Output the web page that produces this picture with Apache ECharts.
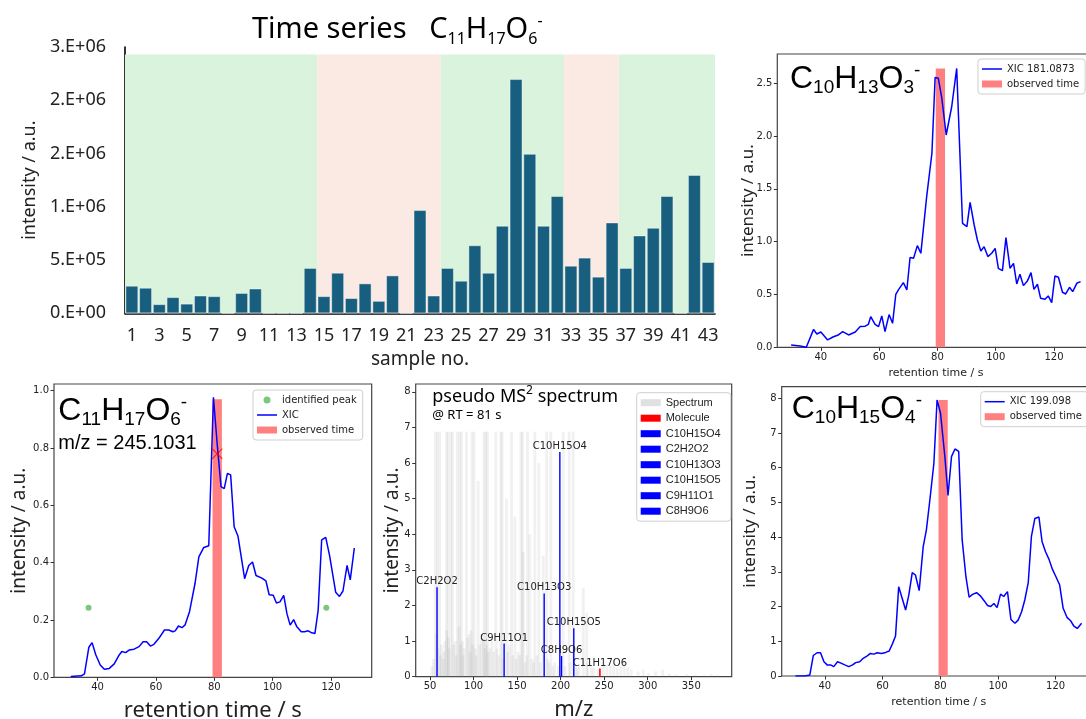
<!DOCTYPE html>
<html><head><meta charset="utf-8">
<script src="https://cdn.jsdelivr.net/npm/echarts@6/dist/echarts.min.js"></script>
<style>html,body{margin:0;padding:0;background:#fff}#c{width:1086px;height:719px}</style>
</head><body><div id="c"></div>
<script>
// ---------------- DATA ----------------
const sampleNo = ['1','2','3','4','5','6','7','8','9','10','11','12','13','14','15','16','17','18','19','20','21','22','23','24','25','26','27','28','29','30','31','32','33','34','35','36','37','38','39','40','41','42','43'];
const tsIntensity = [258000,239000,85000,151000,90000,166000,160000,0,190000,232000,0,0,0,425000,160000,380000,142000,280000,116000,355000,0,968000,166000,425000,305000,638000,380000,821000,2198000,1496000,821000,1100000,446000,522000,343000,852000,425000,730000,802000,1100000,0,1298000,481000];
const tsTicks = [0,500000,1000000,1500000,2000000,2500000];
const phaseStart = [0.5,14.5,23.5,32.5,36.5];
const phaseEnd = [14.5,23.5,32.5,36.5,43.5];
const phaseKind = [0,1,0,1,0];
const phaseTop = 2430000;

const rt181 = [29.8,32.9,35,37.5,38.6,40,42.3,44.3,46,47.5,49.5,51.8,53.5,55.2,56.3,57.1,58.6,59.8,60.9,62,63.4,64.6,65.7,66.6,68.3,69.5,70.6,71.8,73.1,74.3,76.3,78.1,79.2,80.3,81.5,83,84.9,86.6,88.6,90.1,91.2,92.6,93.7,94.9,96,97.3,98.6,99.8,100.9,102.3,103.5,104.9,106.1,107.2,108.3,109.5,110.9,112.1,113.1,114.3,115.4,116.9,118,119.2,120.3,121.5,122.9,124,125.3,126.4,127.8,129.1];
const xic181 = [0.022,0.013,0,0.17,0.126,0.145,0.07,0.1,0.117,0.148,0.117,0.145,0.196,0.2,0.218,0.29,0.218,0.196,0.297,0.148,0.31,0.227,0.5,0.543,0.612,0.543,0.85,0.843,0.963,0.89,1.427,1.837,2.554,2.547,2.358,2.01,2.28,2.64,1.174,1.143,1.373,1.158,1.016,0.912,0.953,0.859,0.89,0.937,0.748,0.726,1.039,0.748,0.795,0.6,0.691,0.584,0.631,0.707,0.549,0.597,0.464,0.455,0.486,0.423,0.675,0.663,0.521,0.505,0.568,0.527,0.606,0.622];

const rt245 = [30.8,34.4,35.5,37,38.1,39.4,40.9,42.3,44,45.7,47.4,48.3,49.6,50.8,52.5,54.2,55.6,56.8,58.1,59.3,61,62.9,64.4,65.8,66.6,67.7,68.9,70,71.5,73.4,74.7,76.4,78.1,79.7,81.1,82.3,83.4,84.5,85.6,86.8,88.1,90.4,91.8,93.1,94.3,96.3,97.7,98.8,100.2,101.3,102.5,103.8,104.9,106,107.2,108.3,109.8,110.9,112.2,113.4,114.5,115.6,116.8,118.2,119.5,121.6,122.9,124.1,125.5,126.6,128];
const xic245 = [0.003,0.005,0.012,0.105,0.121,0.078,0.043,0.028,0.031,0.047,0.078,0.09,0.086,0.095,0.098,0.107,0.124,0.124,0.109,0.115,0.136,0.165,0.165,0.159,0.162,0.179,0.173,0.183,0.229,0.328,0.42,0.453,0.459,0.977,0.8,0.665,0.658,0.711,0.706,0.525,0.493,0.344,0.39,0.402,0.355,0.346,0.336,0.288,0.286,0.259,0.263,0.286,0.222,0.182,0.201,0.176,0.159,0.159,0.162,0.155,0.153,0.234,0.479,0.488,0.425,0.297,0.282,0.301,0.39,0.34,0.451];
const peakRt = [36.9,118.4];
const peakInt = [0.243,0.243];
const markRt = [81];
const markInt = [0.78];

const rt199 = [29.8,33.1,34.8,36,37.3,38.5,39.7,40.8,42,43.1,44.4,45.8,46.9,48.3,49.6,50.7,52.1,53.3,54.7,55.8,57,58.1,59.6,61.1,62.3,63.5,64.5,65.6,66.8,68,69.1,70.3,71.4,72.7,74.1,75.2,76.4,77.8,78.9,80.1,81.6,82.7,83.9,85.1,86.4,87.6,88.9,90,91.2,92.6,93.9,95.2,96.4,97.5,98.6,99.7,100.9,102,103.3,104.5,105.9,107,108.2,109.3,110.5,111.6,112.8,114.2,115.3,116.5,117.7,118.9,120.1,121.4,122.6,124,125.1,126.3,127.5,129];
const xic199 = [0,0,0.03,0.59,0.67,0.67,0.41,0.32,0.32,0.27,0.41,0.365,0.32,0.27,0.32,0.385,0.41,0.51,0.58,0.65,0.63,0.67,0.65,0.68,0.72,0.94,1.15,2.57,2.24,1.9,2.33,2.98,2.91,2.46,3.73,4.21,5.07,6.13,7.95,7.57,6.32,5.2,6.32,6.54,6.47,3.92,2.86,2.27,2.35,2.4,2.31,2.17,2.03,2.0,2.09,1.97,2.36,2.29,2.43,1.63,1.52,1.61,1.85,2.19,2.69,4.02,4.54,4.58,3.87,3.58,3.36,3.07,2.86,2.62,1.95,1.68,1.6,1.44,1.37,1.52];

const obsWindow = [79.4, 82.6];
const obsTop181 = 2.64, obsTop245 = 0.97, obsTop199 = 7.95;
const rtTicks = [40,60,80,100,120];
const rtRange = [25.05,133.95];

const specMz = [52,54,56.1,57,58.4,59,61.1,62,63,65,66,67,68.8,69,70.7,71,72,73.8,75.7,77,79,80,81.4,83,84.1,85,86,87,88,89,91.8,93,95,96,97,98.3,99,100.6,102,103,105.2,107,109,111,112,113,114,115,116,117,119,121,123,125.5,127,129,131.3,132.8,134,137.8,139,141,143.6,145,147.4,149,151,153,154.3,156.2,157,159,161,162,164.6,167,169,170.4,173,175,177,180,183.8,185,187,188.7,191,193,197,202.9,205,209.8,211,214.4,217,219,221,226,229.8,231,235,238,243,249,253,257,261,265,269,273,277,281,289,295,301,309,317,325,333,345,355,365,373,380];
const specInt = [0.3,0.5,6.88,1.2,6.88,0.8,6.88,0.6,0.9,0.5,0.7,1.0,6.88,1.3,6.88,1.1,0.8,6.88,6.88,0.9,1.0,0.6,6.88,1.4,6.88,0.9,6.88,1.0,0.6,0.8,6.88,1.1,1.2,0.7,1.3,6.88,0.9,6.88,0.8,0.6,5.5,0.9,1.2,1.0,6.88,0.8,6.88,0.9,6.88,0.7,0.8,1.0,0.7,6.88,0.8,0.6,6.88,6.88,0.5,5.0,0.7,0.9,6.88,0.6,4.5,0.5,0.7,0.6,6.88,6.88,3.5,0.4,0.6,6.88,4.0,0.5,0.4,6.88,0.6,6.0,0.4,3.4,6.88,0.5,0.4,6.88,0.3,0.4,0.3,6.88,0.3,6.88,0.4,6.88,0.3,0.25,0.3,2.5,1.8,0.4,0.3,0.25,0.2,0.3,0.35,0.3,0.35,0.25,0.3,0.4,0.25,0.2,0.15,0.2,0.1,0.15,0.2,0.08,0.06,0.07,0.05,0.04,0.08,0.04];
const fragNames = ['C10H15O4','C2H2O2','C10H13O3','C10H15O5','C9H11O1','C8H9O6'];
const fragMz = [199.09,58.0,181.09,215.09,135.08,201.04];
const fragInt = [6.31,2.51,2.34,1.36,0.935,0.58];
const molLabel = 'C11H17O6';
const molMz = [245.10];
const molInt = [0.23];
const mzTicks = [50,100,150,200,250,300,350];
const mzRange = [33.5,396.5];

// ---------------- HELPERS ----------------
const MPL = 'DejaVu Sans';
const NOTO = 'Noto Sans';
const ARIAL = 'Liberation Sans';
const TXT = '#222';
const LINE_ICON = 'path://M0,0M20,7M0,2.75H20V4.25H0Z';

function sciLabel(v){
  if (v === 0) return '0.E+00';
  let e = Math.floor(Math.log10(v));
  let m = Math.round(v / Math.pow(10, e));
  if (m === 10) { m = 1; e += 1; }
  return m + '.E+' + (e < 10 ? '0' + e : e);
}
function zip(a, b){ return a.map((x, i) => [x, b[i]]); }

function valAxis(gridIndex, range, ticks, fmt, name, nameSize, nameGap, nameFont, isY){
  return {
    type:'value', gridIndex, min:range[0], max:range[1],
    name, nameLocation:'middle', nameGap, nameRotate: isY ? 90 : 0, nameMoveOverlap:false,
    nameTextStyle:{fontSize:nameSize, fontFamily:nameFont, color:TXT},
    axisLine:{show:false}, splitLine:{show:false},
    axisTick:{show:true, length:3.5, inside:false, lineStyle:{color:'#333', width:1}, customValues:ticks},
    axisLabel:{fontSize:10, color:TXT, fontFamily:MPL, margin:5, customValues:ticks, formatter:fmt}
  };
}
const f1 = v => v.toFixed(1);
const f0 = v => String(Math.round(v));

function obsRender(params, api){
  const p0 = api.coord([api.value(0), api.value(2)]);
  const p1 = api.coord([api.value(1), 0]);
  return {type:'rect', shape:{x:p0[0], y:p0[1], width:p1[0]-p0[0], height:p1[1]-p0[1]}, style:{fill:api.visual('color')}};
}
function obsSeries(xi, yi, top){
  return {type:'custom', name:'observed time', xAxisIndex:xi, yAxisIndex:yi, z:2, silent:true,
    itemStyle:{color:'#ff8080'}, data:[[obsWindow[0], obsWindow[1], top]], encode:{x:[0,1], y:2}, renderItem:obsRender};
}
function xicSeries(name, xi, yi, rt, v){
  return {type:'line', name, xAxisIndex:xi, yAxisIndex:yi, z:3, symbol:'none', showSymbol:false, silent:true,
    lineStyle:{color:'#0000ff', width:1.5}, itemStyle:{color:'#0000ff'}, data:zip(rt, v)};
}
function stickSeries(name, mz, ints, color, width, label, z){
  return {type:'custom', name, xAxisIndex:4, yAxisIndex:3, z, silent:true, itemStyle:{color},
    data:zip(mz, ints),
    renderItem:(params, api) => {
      const x = api.value(0), y = api.value(1);
      const b = api.coord([x, 0]), t = api.coord([x, y]);
      const els = [{type:'rect', shape:{x:b[0]-width/2, y:t[1], width, height:b[1]-t[1]}, style:{fill:color}}];
      if (label) els.push({type:'text', style:{x:b[0], y:t[1]-0.5, text:label, align:'center', textAlign:'center',
        verticalAlign:'bottom', textVerticalAlign:'bottom', fontSize:10, fontFamily:MPL, fill:TXT}});
      return {type:'group', children:els};
    }};
}
const legendBase = {orient:'vertical', selectedMode:false, itemWidth:20, itemHeight:7, itemGap:3,
  padding:[4,6,4,4], borderColor:'#cfcfcf', borderWidth:1, borderRadius:3, backgroundColor:'rgba(255,255,255,0.85)',
  symbolKeepAspect:true,
  textStyle:{fontSize:10, color:TXT, fontFamily:MPL, lineHeight:12}, z:20};

function formulaRich(big, sub, fam){
  return {
    b:{fontSize:big, fontFamily:fam, height:big, padding:[8,0,0,0], verticalAlign:'top', color:'#000'},
    s:{fontSize:sub, fontFamily:fam, height:sub, padding:[22.6,0,0,0], verticalAlign:'top', color:'#000'},
    p:{fontSize:sub, fontFamily:fam, height:sub, padding:[5.8,0,0,0], verticalAlign:'top', color:'#000'}
  };
}
function formulaText(x, y, parts){
  return {type:'text', x, y, z:30, silent:true, style:{text:parts, rich:formulaRich(32, 19, ARIAL), align:'left', verticalAlign:'top', textAlign:'left', textVerticalAlign:'top'}};
}

// ---------------- OPTION ----------------
const option = {
  animation:false,
  backgroundColor:'#fff',
  textStyle:{fontFamily:MPL},
  grid:[
    {left:125, top:47, width:590, height:266.3, outerBoundsMode:'none', containLabel:false},
    {left:777.3, top:54, width:317.4, height:293.3, show:true, borderColor:'#444', borderWidth:1.2, outerBoundsMode:'none', containLabel:false},
    {left:54, top:384, width:317.7, height:293.3, show:true, borderColor:'#444', borderWidth:1.2, outerBoundsMode:'none', containLabel:false},
    {left:415.7, top:384, width:316, height:292.7, show:true, borderColor:'#444', borderWidth:1.2, outerBoundsMode:'none', containLabel:false},
    {left:781.7, top:386.7, width:314.2, height:289.3, show:true, borderColor:'#444', borderWidth:1.2, outerBoundsMode:'none', containLabel:false}
  ],
  xAxis:[
    {type:'category', gridIndex:0, data:sampleNo, boundaryGap:true,
     name:'sample no.', nameLocation:'middle', nameGap:37, nameMoveOverlap:false,
     nameTextStyle:{fontSize:19, fontFamily:NOTO, color:TXT},
     axisLine:{show:true, lineStyle:{color:'#000', width:1.6}}, axisTick:{show:false},
     axisLabel:{interval:1, fontSize:18, fontFamily:NOTO, color:TXT, margin:14}},
    {type:'value', gridIndex:0, min:0.5, max:43.5, show:false},
    valAxis(1, rtRange, rtTicks, f0, 'retention time / s', 11, 20, MPL, false),
    valAxis(2, rtRange, rtTicks, f0, 'retention time / s', 22, 22, NOTO, false),
    valAxis(3, mzRange, mzTicks, f0, 'm/z', 22, 22, NOTO, false),
    valAxis(4, rtRange, rtTicks, f0, 'retention time / s', 11, 21, MPL, false)
  ],
  yAxis:[
    {type:'value', gridIndex:0, min:0, max:2500000, interval:500000,
     name:'intensity / a.u.', nameLocation:'middle', nameGap:86, nameRotate:90, nameMoveOverlap:false,
     nameTextStyle:{fontSize:18, fontFamily:NOTO, color:TXT},
     axisLine:{show:true, lineStyle:{color:'#000', width:1.6}}, axisTick:{show:false}, splitLine:{show:false},
     axisLabel:{fontSize:18, fontFamily:NOTO, color:TXT, margin:19, formatter:sciLabel}},
    valAxis(1, [0,2.777], [0,0.5,1,1.5,2,2.5], f1, 'intensity / a.u.', 17, 21, NOTO, true),
    valAxis(2, [0,1.023], [0,0.2,0.4,0.6,0.8,1.0], f1, 'intensity / a.u.', 19, 25, NOTO, true),
    valAxis(3, [0,8.22], [0,1,2,3,4,5,6,7,8], f0, 'intensity / a.u.', 19, 14, NOTO, true),
    valAxis(4, [0,8.335], [0,1,2,3,4,5,6,7,8], f0, 'intensity / a.u.', 17, 23, NOTO, true)
  ],
  legend:[
    Object.assign({}, legendBase, {left:978, top:59, data:[{name:'XIC 181.0873', icon:LINE_ICON},{name:'observed time', icon:'rect'}]}),
    Object.assign({}, legendBase, {left:253, top:390, data:[{name:'identified peak', icon:'circle'},{name:'XIC', icon:LINE_ICON},{name:'observed time', icon:'rect'}]}),
    Object.assign({}, legendBase, {left:636.7, top:392.7, itemGap:3.5, padding:[4,10,4,4], textStyle:{fontSize:11, color:TXT, fontFamily:ARIAL, lineHeight:12},
      data:[{name:'Spectrum', icon:'rect', itemStyle:{color:'#e0e0e0'}},{name:'Molecule', icon:'rect'}].concat(fragNames.map(n => ({name:n, icon:'rect'})))}),
    Object.assign({}, legendBase, {left:980.7, top:391.7, data:[{name:'XIC 199.098', icon:LINE_ICON},{name:'observed time', icon:'rect'}]})
  ],
  graphic:[
    {type:'text', x:252, y:6.8, z:30, silent:true, style:{
      text:'{t|Time series   }{b|C}{s|11}{b|H}{s|17}{b|O}{s|6}{p|-}', align:'left', verticalAlign:'top', textAlign:'left', textVerticalAlign:'top',
      rich:{
        t:{fontSize:29, fontFamily:NOTO, height:29, padding:[8,0,0,0], verticalAlign:'top', color:'#000'},
        b:{fontSize:29, fontFamily:NOTO, height:29, padding:[8,0,0,0], verticalAlign:'top', color:'#000'},
        s:{fontSize:16, fontFamily:NOTO, height:16, padding:[24.4,0,0,0], verticalAlign:'top', color:'#000'},
        p:{fontSize:16, fontFamily:NOTO, height:16, padding:[6.4,0,0,0], verticalAlign:'top', color:'#000'}
      }}},
    formulaText(790, 55.6, '{b|C}{s|10}{b|H}{s|13}{b|O}{s|3}{p|-}'),
    formulaText(58.3, 387.3, '{b|C}{s|11}{b|H}{s|17}{b|O}{s|6}{p|-}'),
    formulaText(791.7, 385.6, '{b|C}{s|10}{b|H}{s|15}{b|O}{s|4}{p|-}'),
    {type:'text', x:58.3, y:443.3, z:30, silent:true, style:{text:'m/z = 245.1031', fontSize:20, fontFamily:ARIAL, fill:'#000',
      align:'left', verticalAlign:'middle', textAlign:'left', textVerticalAlign:'middle'}},
    {type:'text', x:432.3, y:381, z:30, silent:true, style:{
      text:'{a|pseudo MS}{b|2}{a| spectrum}', align:'left', verticalAlign:'top', textAlign:'left', textVerticalAlign:'top',
      rich:{
        a:{fontSize:18, fontFamily:NOTO, height:18, padding:[6.5,0,0,0], verticalAlign:'top', color:'#000'},
        b:{fontSize:12, fontFamily:NOTO, height:12, padding:[4,0,0,0], verticalAlign:'top', color:'#000'}
      }}},
    {type:'text', x:432.3, y:415.7, z:30, silent:true, style:{text:'@ RT = 81 s', fontSize:13, fontFamily:NOTO, fill:'#000',
      align:'left', verticalAlign:'middle', textAlign:'left', textVerticalAlign:'middle'}}
  ],
  series:[
    {type:'custom', name:'phase', xAxisIndex:1, yAxisIndex:0, z:1, silent:true,
     data:phaseStart.map((s, i) => [s, phaseEnd[i], phaseTop, phaseKind[i]]), encode:{x:[0,1], y:2},
     renderItem:(params, api) => {
       const p0 = api.coord([api.value(0), api.value(2)]);
       const p1 = api.coord([api.value(1), 0]);
       return {type:'rect', shape:{x:p0[0], y:p0[1], width:p1[0]-p0[0], height:p1[1]-p0[1]},
         style:{fill: api.value(3) === 0 ? '#d9f3dd' : '#fbe9e3'}};
     }},
    {type:'bar', name:'intensity', xAxisIndex:0, yAxisIndex:0, z:3, silent:true, data:tsIntensity, barCategoryGap:'7%',
     itemStyle:{color:'#175e7f', borderColor:'rgba(255,255,255,0.55)', borderWidth:0.8}},

    obsSeries(2, 1, obsTop181),
    xicSeries('XIC 181.0873', 2, 1, rt181, xic181),

    obsSeries(3, 2, obsTop245),
    xicSeries('XIC', 3, 2, rt245, xic245),
    {type:'scatter', name:'identified peak', xAxisIndex:3, yAxisIndex:2, z:4, silent:true, symbol:'circle', symbolSize:6,
     itemStyle:{color:'#5cb85c'}, data:zip(peakRt, peakInt)},
    {type:'scatter', name:'max marker', xAxisIndex:3, yAxisIndex:2, z:5, silent:true,
     symbol:'path://M0,0.7L0.7,0L5,4.3L9.3,0L10,0.7L5.7,5L10,9.3L9.3,10L5,5.7L0.7,10L0,9.3L4.3,5Z', symbolSize:11,
     itemStyle:{color:'#ff0000'}, data:zip(markRt, markInt)},

    stickSeries('Spectrum', specMz, specInt, 'rgba(150,150,150,0.13)', 2.8, null, 2),
    stickSeries('Molecule', molMz, molInt, '#ff0000', 1.6, molLabel, 4)
  ].concat(fragNames.map((n, i) => stickSeries(n, [fragMz[i]], [fragInt[i]], '#0000ff', 1.4, n, 4))).concat([
    obsSeries(5, 4, obsTop199),
    xicSeries('XIC 199.098', 5, 4, rt199, xic199)
  ])
};

const chart = echarts.init(document.getElementById('c'), null, {renderer:'canvas', width:1086, height:719});
chart.setOption(option);
</script>
</body></html>
